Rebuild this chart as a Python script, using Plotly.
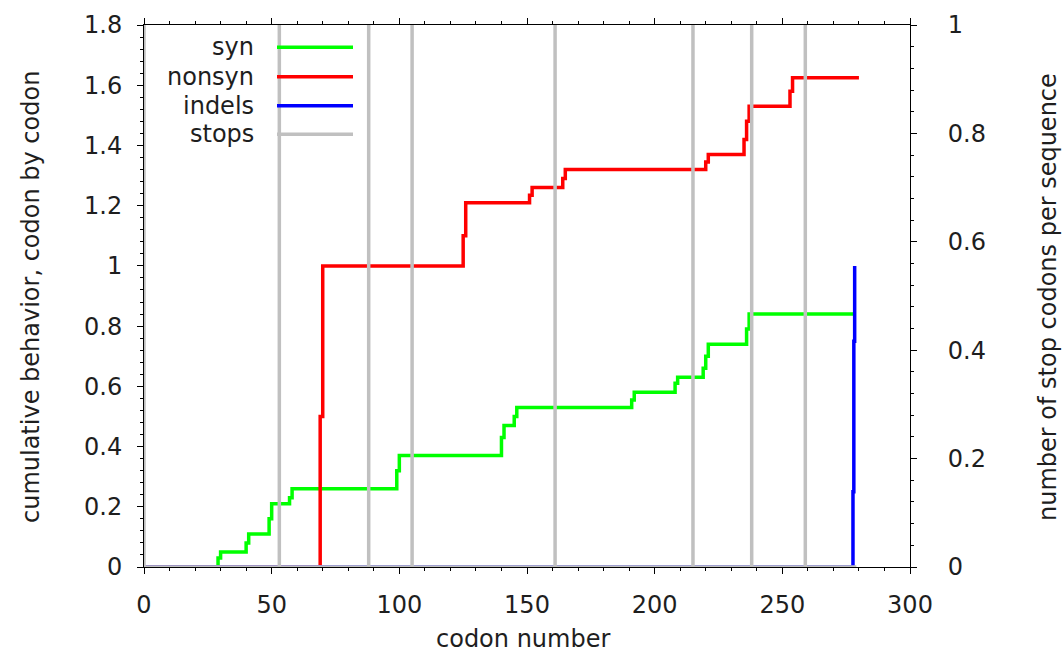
import plotly.graph_objects as go

# Cumulative per-codon behaviour: (codon position, running total) at each change point
syn_codon = [0, 29, 30, 40, 41, 49, 50, 57, 58, 99, 100, 140, 141, 145, 146,
             191, 192, 208, 209, 219, 220, 221, 236, 237, 278.5]
syn_value = [0, 0.03, 0.05, 0.08, 0.11, 0.16, 0.21, 0.23, 0.26, 0.32, 0.37, 0.43, 0.47, 0.50, 0.53,
             0.555, 0.58, 0.61, 0.63, 0.66, 0.70, 0.74, 0.79, 0.84, 0.84]

nonsyn_codon = [0, 69, 70, 125, 126, 151, 152, 164, 165, 220, 221, 235, 236, 237, 253, 254, 280]
nonsyn_value = [0, 0.5, 1.0, 1.1, 1.21, 1.235, 1.26, 1.29, 1.32, 1.345, 1.37, 1.42, 1.48, 1.53,
                1.58, 1.625, 1.625]

indel_codon = [0, 277.67, 278.0, 278.33]
indel_value = [0, 0.25, 0.75, 1.0]

# Codons carrying stop codons (count per sequence on the right axis)
stop_codon = [0, 53, 88, 105, 161, 215, 238, 259]
stop_count = [1, 1, 1, 1, 1, 1, 1, 1]
last_codon = 279

# Stops as a baseline with spikes at each stop position
stop_x, stop_y = [], []
for c, n in zip(stop_codon, stop_count):
    stop_x += [c, c, c]
    stop_y += [0, n, 0]
stop_x.append(last_codon)
stop_y.append(0)

GREEN, RED, BLUE, GRAY = "#00ff00", "#ff0000", "#0000ff", "#c0c0c0"
LW = 3.5
FONT = "DejaVu Sans"
TXT = "#1e1e1e"
FS = 24

fig = go.Figure()
fig.add_trace(go.Scatter(x=syn_codon, y=syn_value, mode="lines", line_shape="hv",
                         line=dict(color=GREEN, width=LW), name="syn"))
fig.add_trace(go.Scatter(x=nonsyn_codon, y=nonsyn_value, mode="lines", line_shape="hv",
                         line=dict(color=RED, width=LW), name="nonsyn"))
fig.add_trace(go.Scatter(x=indel_codon, y=indel_value, mode="lines", line_shape="hv",
                         line=dict(color=BLUE, width=LW), name="indels"))
fig.add_trace(go.Scatter(x=stop_x, y=stop_y, mode="lines", yaxis="y2",
                         line=dict(color=GRAY, width=LW), name="stops"))

L, R, T, B = 144, 910, 25, 567
W, H = 1064, 655

def px_x(p):
    return (p - L) / (R - L)

def px_y(p):
    return (B - p) / (B - T)

# Key: right-aligned labels with line samples to their right
names = ["syn", "nonsyn", "indels", "stops"]
colors = [GREEN, RED, BLUE, GRAY]
rows = [47.3, 76.7, 105.7, 134.3]
annotations = []
shapes = []
for nm, col, ry in zip(names, colors, rows):
    annotations.append(dict(x=px_x(256), y=px_y(ry), xref="paper", yref="paper",
                            text=nm, showarrow=False, xanchor="right", yanchor="middle",
                            font=dict(family=FONT, size=FS, color=TXT)))
    shapes.append(dict(type="line", xref="paper", yref="paper",
                       x0=px_x(277), x1=px_x(353), y0=px_y(ry), y1=px_y(ry),
                       line=dict(color=col, width=LW)))

annotations.append(dict(x=px_x(31), y=px_y(297), xref="paper", yref="paper",
                        text="cumulative behavior, codon by codon", textangle=-90,
                        showarrow=False, xanchor="center", yanchor="middle",
                        font=dict(family=FONT, size=FS, color=TXT)))
annotations.append(dict(x=px_x(1048), y=px_y(297), xref="paper", yref="paper",
                        text="number of stop codons per sequence", textangle=-90,
                        showarrow=False, xanchor="center", yanchor="middle",
                        font=dict(family=FONT, size=FS, color=TXT)))
annotations.append(dict(x=px_x(523), y=px_y(639), xref="paper", yref="paper",
                        text="codon number", showarrow=False,
                        xanchor="center", yanchor="middle",
                        font=dict(family=FONT, size=FS, color=TXT)))

axis_common = dict(showline=True, linecolor="black", linewidth=1, showgrid=False,
                   zeroline=False, ticks="outside", tickcolor="black", ticklen=6,
                   tickwidth=1, tickfont=dict(family=FONT, size=FS, color=TXT))

fig.update_layout(
    width=W, height=H,
    margin=dict(l=L, r=W - R, t=T, b=H - B),
    paper_bgcolor="white", plot_bgcolor="white",
    showlegend=False,
    xaxis=dict(range=[0, 300], dtick=50, tick0=0, mirror="ticks",
               minor=dict(dtick=10, ticklen=3, ticks="outside", tickcolor="black"),
               ticklabelstandoff=10, **axis_common),
    yaxis=dict(range=[0, 1.8], dtick=0.2, tick0=0,
               minor=dict(dtick=0.04, ticklen=3, ticks="outside", tickcolor="black"),
               ticklabelstandoff=10, **axis_common),
    yaxis2=dict(range=[0, 1], dtick=0.2, tick0=0, overlaying="y", side="right",
                minor=dict(dtick=0.04, ticklen=3, ticks="outside", tickcolor="black"),
                ticklabelstandoff=26, **axis_common),
    annotations=annotations,
    shapes=shapes,
)

fig.write_html("out.html")
